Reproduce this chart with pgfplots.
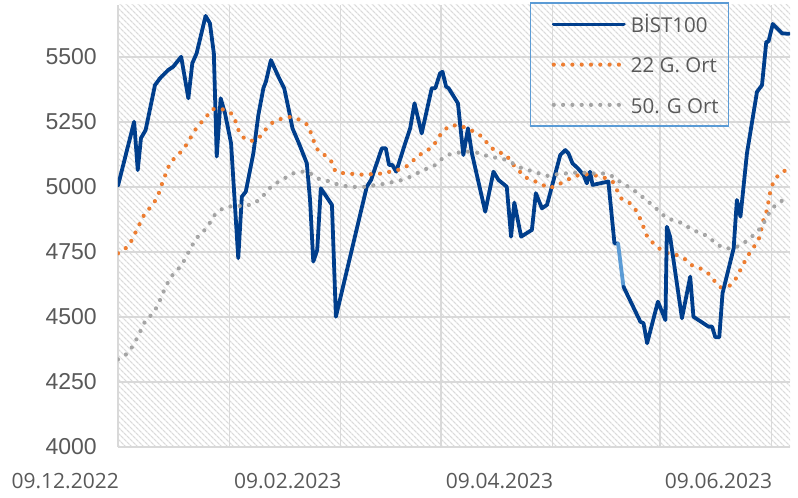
\documentclass[border=0pt]{standalone}
\usepackage{pgfplots}
\pgfplotsset{compat=1.18}
\usetikzlibrary{patterns.meta}
\usepackage{fontspec}
\newfontfamily\openfont{Open Sans}
\newfontfamily\libsans{Liberation Sans}
\definecolor{bistblue}{RGB}{0,62,140}
\definecolor{lightseg}{RGB}{91,155,213}
\definecolor{ortorange}{RGB}{237,125,49}
\definecolor{ortgray}{RGB}{165,165,165}
\definecolor{gridgray}{RGB}{217,217,217}
\definecolor{txtgray}{RGB}{89,89,89}
\definecolor{hatch}{RGB}{218,218,218}
\newcommand{\lgt}[1]{\raisebox{0pt}[18.15bp][0pt]{#1}}
\begin{document}
\begin{tikzpicture}
\begin{axis}[
  scale only axis,
  width=672bp, height=442bp,
  xmin=0, xmax=187.2,
  ymin=4000, ymax=5700,
  axis background/.style={pattern={Lines[angle=-45,distance=3.9bp,line width=1.3bp]}, pattern color=hatch},
  axis line style={draw=none},
  major tick length=0pt,
  xtick={0,31,62,90,121,151,182},
  xticklabels={09.12.2022,,09.02.2023,,09.04.2023,,09.06.2023},
  xticklabel style={font=\openfont\fontsize{21bp}{25bp}\selectfont, text=txtgray, anchor=north east, inner sep=0pt, yshift=-26bp, xshift=1bp},
  ytick={4000,4250,4500,4750,5000,5250,5500},
  yticklabel style={font=\libsans\fontsize{23bp}{27bp}\selectfont, text=txtgray, anchor=east, inner sep=0pt, xshift=-21bp, /pgf/number format/assume math mode=true, /pgf/number format/1000 sep={}},
  grid=major,
  major grid style={draw=gridgray, line width=1.4bp},
  legend cell align=left,
  legend style={at={(rel axis cs:0.613,1.006)}, anchor=north west, draw=lightseg, line width=1.5bp, fill=none,
    font=\openfont\fontsize{20.5bp}{25bp}\selectfont, text=txtgray,
    inner xsep=8bp, inner ysep=9.5bp, row sep=16.6bp, column sep=3bp},
  legend image code/.code={\path (0bp,0bp); \draw[#1] (13bp,0bp) -- (83bp,0bp);},
]
\addplot[bistblue, line width=3.8bp, line join=round, line cap=round] coordinates {
(0,5005) (4.5,5251) (5.5,5065) (6.4,5188) (7.7,5219) (10.3,5392) (11.7,5418) (14.0,5450) (15.4,5463) (17.6,5501)
(19.6,5341) (20.7,5476) (21.9,5514) (24.4,5658) (25.6,5630) (26.7,5514) (27.5,5117) (28.6,5341) (29.8,5284) (31.5,5168)
(33.5,4726) (34.5,4963) (35.6,4982) (37.7,5129) (39.1,5277) (40.5,5380) (41.2,5405) (42.6,5488) (44.7,5424) (46.3,5380)
(47.5,5302) (48.6,5226) (50.4,5168) (52.6,5091) (53.5,4950) (54.4,4713) (55.5,4758) (56.5,4995) (59.6,4931) (60.7,4501)
(69.3,5001) (70.5,5027) (73.5,5149) (74.6,5149) (75.5,5085) (76.4,5085) (77.5,5059) (80.0,5168) (81.4,5226) (82.6,5322)
(84.6,5206) (87.4,5380) (88.4,5380) (89.7,5437) (90.4,5443) (91.4,5386) (92.1,5380) (94.7,5322) (96.2,5123) (97.5,5226)
(98.6,5129) (102.3,4905) (104.6,5059) (106.0,5027) (108.3,5001) (109.5,4809) (110.4,4940) (112.3,4809) (115.3,4835) (116.4,4976)
(118.1,4918) (119.5,4931) (123.2,5123) (124.6,5142) (125.5,5129) (126.6,5091) (128.1,5072) (129.7,5046) (130.6,5014) (131.5,5059)
(132.2,5008) (136.6,5021) (138.3,4783) (139.3,4783)
};
\addlegendentry{\lgt{BİST100}}
\addplot[ortorange, line width=4.2bp, line cap=round, dash pattern=on 0bp off 9.3bp] coordinates {
(0,4745) (2.7,4770) (4.0,4799) (5.2,4835) (7.5,4899) (9.2,4924) (10.8,4956) (11.7,4988) (12.6,5027) (13.6,5059)
(14.5,5094) (16.4,5119) (18.2,5145) (19.6,5174) (21.0,5209) (22.4,5238) (24.4,5264) (25.8,5296) (27.2,5302) (29.5,5298)
(31.9,5280) (32.9,5247) (33.7,5213) (35.4,5183) (37.7,5177) (39.8,5196) (41.4,5226) (43.3,5251) (45.8,5264) (48.2,5270)
(50.7,5258) (52.9,5238) (53.8,5206) (54.7,5170) (55.8,5138) (58.0,5119) (59.7,5094) (60.5,5061) (63.1,5052) (65.9,5050)
(68.4,5047) (71.2,5050) (73.8,5052) (76.3,5061) (78.8,5068) (81.1,5085) (82.8,5110) (84.9,5132) (87.4,5151) (88.8,5178)
(90.2,5210) (92.3,5235) (94.8,5238) (97.2,5226) (99.7,5209) (101.8,5190) (103.4,5157) (105.5,5136) (108.1,5125) (109.7,5091)
(111.4,5069) (113.0,5040) (115.3,5027) (117.8,5012) (120.1,4995) (122.5,5008) (125.1,5027) (127.4,5042) (129.7,5050) (132.0,5046)
(134.3,5042) (136.5,5030) (137.8,5021) (139.0,4988) (140.2,4956) (142.7,4937) (144.6,4905) (145.7,4870) (146.7,4835) (147.6,4803)
(149.7,4777) (151.5,4755) (153.2,4745) (155.7,4738) (158.0,4722) (159.7,4700) (162.2,4687) (164.4,4668) (166.2,4638) (167.8,4614)
(170.3,4619) (172.2,4649) (174.3,4706) (175.9,4745) (177.3,4773) (178.7,4806) (179.8,4873) (180.8,4911) (181.7,4982) (182.6,5021)
(184.2,5050) (186.4,5068)
};
\addlegendentry{\lgt{22 G. Ort}}
\addplot[ortgray, line width=4.2bp, line cap=round, dash pattern=on 0bp off 9.3bp] coordinates {
(0,4337) (2.7,4360) (4.3,4392) (5.5,4424) (6.6,4456) (7.7,4488) (9.8,4514) (11.1,4546) (12.2,4581) (13.1,4611)
(14.5,4649) (15.9,4674) (17.8,4698) (18.9,4732) (20.3,4764) (21.5,4799) (23.3,4822) (25.2,4851) (26.3,4883) (28.1,4909)
(30.3,4924) (32.8,4927) (35.4,4927) (38.0,4937) (40.1,4960) (41.7,4988) (43.6,5012) (45.8,5027) (48.1,5050) (50.7,5059)
(53.0,5059) (55.4,5033) (57.7,5027) (60.2,5014) (62.5,5005) (65.1,5001) (67.9,4999) (70.5,5005) (73.2,5010) (75.8,5017)
(78.4,5024) (80.9,5036) (83.2,5052) (85.6,5068) (88.1,5082) (90.0,5106) (92.3,5125) (94.7,5132) (97.5,5136) (100.0,5132)
(102.5,5121) (105.1,5113) (107.7,5106) (110.0,5091) (112.5,5072) (114.8,5063) (117.4,5052) (119.9,5042) (122.4,5049) (124.6,5052)
(127.2,5055) (130.0,5055) (132.7,5052) (135.5,5052) (138.0,5040) (140.4,5014) (143.0,4995) (145.8,4965) (148.3,4937) (150.6,4909)
(152.9,4879) (155.5,4870) (157.7,4857) (159.9,4835) (162.2,4824) (164.5,4809) (166.6,4781) (169.0,4764) (171.5,4764) (174.0,4781)
(176.1,4803) (178.5,4835) (179.4,4847) (180.8,4886) (182.2,4918) (184.3,4943) (186.2,4954)
};
\addlegendentry{\lgt{50. G Ort}}
\addplot[lightseg, line width=3.8bp, line cap=round, forget plot] coordinates {(139.3,4783) (140.8,4617)};
\addplot[bistblue, line width=3.8bp, line join=round, line cap=round, forget plot] coordinates {
(140.8,4617) (145.5,4482) (146.4,4476) (147.4,4399) (150.4,4559) (152.5,4488) (152.9,4847) (153.8,4809) (157.1,4495) (159.4,4655)
(160.3,4501) (164.5,4463) (165.5,4463) (166.4,4422) (167.5,4422) (168.4,4591) (171.5,4764) (172.4,4950) (173.4,4886) (175.2,5129)
(178.0,5366) (179.4,5392) (180.6,5559) (181.2,5559) (182.4,5627) (185.0,5591) (187.0,5589)
};
\coordinate (bl) at (rel axis cs:0,0);
\coordinate (tr) at (rel axis cs:1,1);
\end{axis}
\pgfresetboundingbox
\path ([xshift=-118bp,yshift=-51bp]bl) rectangle ([xshift=8bp,yshift=5bp]tr);
\end{tikzpicture}
\end{document}
